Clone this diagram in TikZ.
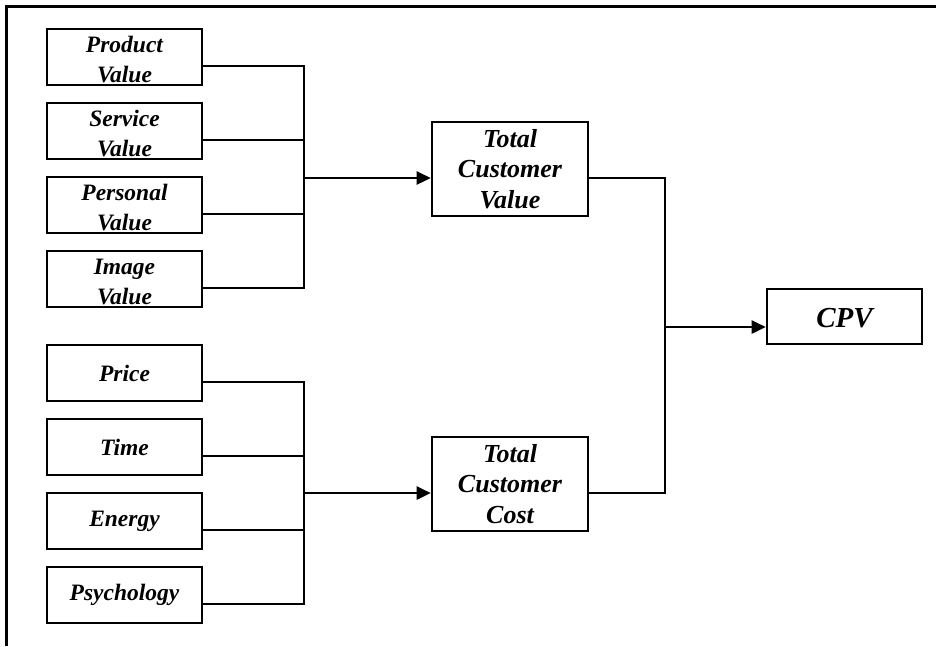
\documentclass[tikz,border=0pt]{standalone}
\usepackage{fontspec}
\setmainfont{Liberation Serif}
\usetikzlibrary{arrows.meta}
\begin{document}
\begin{tikzpicture}[x=1pt,y=-1pt,
  box/.style={draw,line width=2.6pt,rectangle,inner sep=0pt},
  srcbox/.style={box,minimum width=155pt,minimum height=56pt},
  midbox/.style={box,minimum width=156pt,minimum height=94pt},
  endbox/.style={box,minimum width=155pt,minimum height=55pt},
  lbl/.style={inner sep=0pt,align=center,font=\fontsize{23.5}{30}\selectfont\bfseries\itshape},
  midlbl/.style={lbl,font=\fontsize{26}{30.5}\selectfont\bfseries\itshape},
  endlbl/.style={lbl,font=\fontsize{29}{33}\selectfont\bfseries\itshape},
  conn/.style={line width=2.6pt},
  arr/.style={line width=2.6pt,-{Triangle[length=14pt,width=13pt]}}]
\useasboundingbox (0,0) rectangle (936,646);
% open frame: top and left edges
\draw[line width=3pt] (6.7,646) -- (6.7,6.7) -- (936,6.7);

% value sources
\node[srcbox] (pv) at (124.5,57)  {};
\node[srcbox] (sv) at (124.5,131) {};
\node[srcbox] (ev) at (124.5,205) {};
\node[srcbox] (iv) at (124.5,279) {};
\node[lbl] (pvt) at ([yshift=-3pt]pv.center) {Product\\Value};
\node[lbl] (svt) at ([yshift=-3pt]sv.center) {Service\\Value};
\node[lbl] (evt) at ([yshift=-3pt]ev.center) {Personal\\Value};
\node[lbl] (ivt) at ([yshift=-3pt]iv.center) {Image\\Value};
% cost sources
\node[srcbox] (pr) at (124.5,373) {};
\node[srcbox] (tm) at (124.5,447) {};
\node[srcbox] (en) at (124.5,521) {};
\node[srcbox] (ps) at (124.5,595) {};
\node[lbl] (prt) at (pr.center) {Price};
\node[lbl] (tmt) at (tm.center) {Time};
\node[lbl] (ent) at (en.center) {Energy};
\node[lbl] (pst) at (ps.center) {Psychology};

% totals and result
\node[midbox] (tcv) at (510,169) {};
\node[midbox] (tcc) at (510,484) {};
\node[endbox] (cpv) at (844.5,316.5) {};
\node[midlbl] (tcvt) at (tcv.center) {Total\\Customer\\Value};
\node[midlbl] (tcct) at (tcc.center) {Total\\Customer\\Cost};
\node[endlbl] (cpvt) at ([yshift=-2pt]cpv.center) {CPV};

% bus lines
\coordinate (va) at (304,0);
\coordinate (vb) at (665,0);

\foreach \n in {pv,sv,ev,iv,pr,tm,en,ps}
  \draw[conn] ([yshift=-9pt]\n.east) -- ([yshift=-9pt]\n.east -| va);
\draw[conn,line cap=rect] ([yshift=-9pt]pv.east -| va) -- ([yshift=-9pt]iv.east -| va);
\draw[conn,line cap=rect] ([yshift=-9pt]pr.east -| va) -- ([yshift=-9pt]ps.east -| va);

\draw[arr] ([yshift=-9pt]tcv.west -| va) -- ([yshift=-9pt]tcv.west);
\draw[arr] ([yshift=-9pt]tcc.west -| va) -- ([yshift=-9pt]tcc.west);

\draw[conn] ([yshift=-9pt]tcv.east) -| ([yshift=-9pt]tcc.east -| vb) -- ([yshift=-9pt]tcc.east);
\draw[arr] ([yshift=-10.5pt]cpv.west -| vb) -- ([yshift=-10.5pt]cpv.west);
\end{tikzpicture}
\end{document}
